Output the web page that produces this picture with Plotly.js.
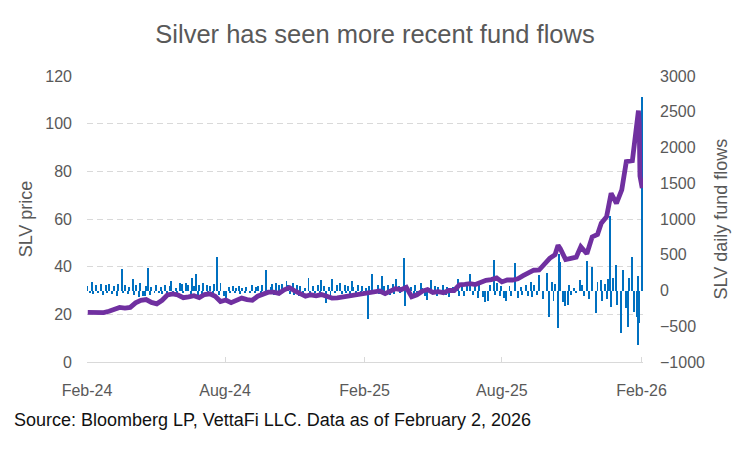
<!DOCTYPE html>
<html><head><meta charset="utf-8">
<script src="https://cdn.plot.ly/plotly-3.0.1.min.js"></script>
<style>html,body{margin:0;padding:0;background:#fff}#chart{width:750px;height:450px}</style>
</head><body><div id="chart"></div>
<script>
// SLV price (weekly-ish reads)
const priceDates = ['2024-02-02','2024-02-09','2024-02-16','2024-02-23','2024-03-01','2024-03-08','2024-03-15','2024-03-22','2024-03-29','2024-04-05','2024-04-12','2024-04-19','2024-04-26','2024-05-03','2024-05-10','2024-05-17','2024-05-24','2024-05-31','2024-06-07','2024-06-14','2024-06-21','2024-06-28','2024-07-05','2024-07-12','2024-07-19','2024-07-26','2024-08-02','2024-08-09','2024-08-16','2024-08-23','2024-08-30','2024-09-06','2024-09-13','2024-09-20','2024-09-27','2024-10-04','2024-10-11','2024-10-18','2024-10-25','2024-11-01','2024-11-08','2024-11-15','2024-11-22','2024-11-29','2024-12-06','2024-12-13','2024-12-20','2024-12-27','2025-01-03','2025-01-10','2025-01-17','2025-01-24','2025-01-31','2025-02-07','2025-02-14','2025-02-21','2025-02-28','2025-03-07','2025-03-14','2025-03-21','2025-03-28','2025-04-04','2025-04-11','2025-04-18','2025-04-25','2025-05-02','2025-05-09','2025-05-16','2025-05-23','2025-05-30','2025-06-06','2025-06-13','2025-06-20','2025-06-27','2025-07-04','2025-07-11','2025-07-18','2025-07-25','2025-08-01','2025-08-08','2025-08-15','2025-08-22','2025-08-29','2025-09-05','2025-09-12','2025-09-19','2025-09-26','2025-10-03','2025-10-10','2025-10-14','2025-10-17','2025-10-24','2025-10-31','2025-11-07','2025-11-13','2025-11-21','2025-11-28','2025-12-05','2025-12-10','2025-12-17','2025-12-23','2025-12-30','2026-01-06','2026-01-12','2026-01-20','2026-01-23','2026-01-26','2026-01-28','2026-01-29','2026-01-30','2026-02-02'];
const priceValues = [20.8,20.6,20.9,20.7,21.3,22.1,22.9,22.6,22.9,24.8,25.9,26.2,25.0,24.4,25.9,28.1,28.6,28.1,27.0,27.3,27.8,27.0,28.3,28.6,27.6,25.4,26.0,24.9,25.7,26.8,26.2,25.9,27.6,28.4,29.3,29.3,28.8,30.3,31.2,29.8,28.6,27.6,28.2,27.8,28.3,27.4,26.8,26.9,27.3,27.9,28.1,28.3,28.7,29.3,29.8,29.8,28.7,29.6,30.8,30.3,31.3,27.4,28.2,29.7,30.4,29.2,29.5,29.1,30.0,30.0,32.4,32.6,32.9,32.5,33.4,34.3,34.6,35.3,33.6,34.4,34.4,34.9,36.2,37.3,38.5,38.6,41.0,43.5,45.0,49.0,47.5,43.0,43.5,44.0,48.4,45.4,52.5,53.5,58.2,61.0,70.8,66.6,72.2,84.1,84.5,92.0,99.0,105.5,100.0,78.0,73.0];

// SLV daily fund flows
const flowDates = ['2024-02-01','2024-02-05','2024-02-07','2024-02-09','2024-02-13','2024-02-15','2024-02-20','2024-02-22','2024-02-26','2024-02-28','2024-03-01','2024-03-05','2024-03-07','2024-03-11','2024-03-13','2024-03-18','2024-03-20','2024-03-22','2024-03-26','2024-03-28','2024-04-01','2024-04-03','2024-04-05','2024-04-09','2024-04-11','2024-04-15','2024-04-17','2024-04-19','2024-04-22','2024-04-24','2024-04-26','2024-04-30','2024-05-02','2024-05-06','2024-05-08','2024-05-10','2024-05-14','2024-05-16','2024-05-20','2024-05-22','2024-05-24','2024-05-28','2024-05-30','2024-06-03','2024-06-05','2024-06-07','2024-06-11','2024-06-13','2024-06-17','2024-06-19','2024-06-21','2024-06-24','2024-06-26','2024-06-28','2024-07-01','2024-07-03','2024-07-08','2024-07-10','2024-07-12','2024-07-16','2024-07-18','2024-07-22','2024-07-24','2024-07-26','2024-07-30','2024-08-02','2024-08-06','2024-08-08','2024-08-12','2024-08-14','2024-08-16','2024-08-19','2024-08-21','2024-08-23','2024-08-27','2024-08-29','2024-09-03','2024-09-05','2024-09-09','2024-09-11','2024-09-13','2024-09-17','2024-09-19','2024-09-24','2024-09-26','2024-09-30','2024-10-02','2024-10-04','2024-10-07','2024-10-09','2024-10-11','2024-10-15','2024-10-17','2024-10-21','2024-10-23','2024-10-25','2024-10-29','2024-10-31','2024-11-04','2024-11-06','2024-11-08','2024-11-12','2024-11-14','2024-11-19','2024-11-21','2024-11-25','2024-11-27','2024-12-02','2024-12-04','2024-12-06','2024-12-10','2024-12-12','2024-12-16','2024-12-18','2024-12-20','2024-12-24','2024-12-27','2024-12-30','2025-01-02','2025-01-06','2025-01-08','2025-01-10','2025-01-13','2025-01-15','2025-01-17','2025-01-21','2025-01-23','2025-01-27','2025-01-29','2025-01-31','2025-02-03','2025-02-05','2025-02-07','2025-02-11','2025-02-13','2025-02-18','2025-02-20','2025-02-24','2025-02-26','2025-02-28','2025-03-04','2025-03-06','2025-03-10','2025-03-12','2025-03-14','2025-03-18','2025-03-20','2025-03-25','2025-03-26','2025-03-28','2025-04-01','2025-04-03','2025-04-07','2025-04-09','2025-04-11','2025-04-16','2025-04-18','2025-04-22','2025-04-24','2025-04-29','2025-05-01','2025-05-05','2025-05-07','2025-05-09','2025-05-13','2025-05-15','2025-05-19','2025-05-21','2025-05-23','2025-05-28','2025-05-30','2025-06-04','2025-06-06','2025-06-10','2025-06-12','2025-06-16','2025-06-20','2025-06-24','2025-06-26','2025-06-30','2025-07-02','2025-07-07','2025-07-10','2025-07-14','2025-07-16','2025-07-21','2025-07-23','2025-07-25','2025-07-29','2025-07-31','2025-08-04','2025-08-07','2025-08-11','2025-08-13','2025-08-18','2025-08-22','2025-08-26','2025-08-28','2025-09-02','2025-09-04','2025-09-08','2025-09-10','2025-09-12','2025-09-16','2025-09-19','2025-09-24','2025-09-29','2025-10-02','2025-10-06','2025-10-08','2025-10-10','2025-10-14','2025-10-15','2025-10-17','2025-10-21','2025-10-23','2025-10-27','2025-10-29','2025-10-31','2025-11-04','2025-11-07','2025-11-12','2025-11-14','2025-11-17','2025-11-21','2025-11-24','2025-11-28','2025-12-03','2025-12-05','2025-12-09','2025-12-11','2025-12-15','2025-12-17','2025-12-19','2025-12-22','2025-12-23','2025-12-26','2025-12-29','2025-12-31','2026-01-05','2026-01-08','2026-01-12','2026-01-14','2026-01-16','2026-01-20','2026-01-22','2026-01-26','2026-01-27','2026-01-28','2026-01-29','2026-02-02'];
const flowValues = [60,-35,113,-50,70,-40,90,-60,75,-30,85,-45,60,-70,95,300,-40,70,-55,50,160,-60,80,-90,110,-70,-83,60,310,-60,45,-40,70,-35,55,-50,80,-45,60,127,-70,40,-55,104,90,-40,110,75,-50,174,60,235,-60,80,-45,104,70,-50,60,-80,90,469,-60,104,-70,-120,50,-40,65,-30,40,60,-45,35,-30,50,-40,70,-30,45,60,-50,80,282,-40,55,90,-60,100,-50,70,95,-40,127,80,-45,110,-60,70,-70,60,-50,40,174,-40,60,-35,80,-50,141,60,-176,55,-60,160,-40,70,110,-50,80,-40,60,-60,130,50,-45,70,-30,60,-50,40,-395,60,225,-40,70,-50,198,60,-45,80,-60,90,-50,160,60,-40,455,-214,70,-60,50,-110,80,-50,100,40,-70,-130,140,-50,60,-80,50,-40,70,-60,45,-90,55,-40,160,-80,100,-70,60,235,-60,90,-100,70,-90,-154,-140,80,432,-60,110,-80,60,-100,-140,60,-80,385,-100,50,-60,80,-70,120,-90,70,-60,210,-120,240,-373,120,-150,90,-528,511,398,-160,-220,-200,80,-60,30,-40,150,70,-80,418,-120,330,-317,120,140,-150,90,-120,160,1040,-224,180,360,-200,-598,290,-250,-505,180,470,-300,-364,200,-762,-455,2702];

const tickVals = ['2024-02-01','2024-08-01','2025-02-01','2025-08-01','2026-02-01'];
const tickText = ['Feb-24','Aug-24','Feb-25','Aug-25','Feb-26'];

const gray = '#595959';
const font = 'Liberation Sans, Arial, sans-serif';
const traces = [
  {type:'bar', x:flowDates, y:flowValues, yaxis:'y', name:'SLV daily fund flows',
   marker:{color:'#0070C0', line:{width:0}}, width:2.6*86400000},
  {type:'scatter', mode:'lines', x:priceDates, y:priceValues, yaxis:'y2', name:'SLV price',
   line:{color:'#7030A0', width:4.8}}
];
const layout = {
  width:750, height:450,
  margin:{l:87, r:107, t:76, b:88},
  paper_bgcolor:'#fff', plot_bgcolor:'#fff',
  showlegend:false,
  bargap:0,
  title:{text:'Silver has seen more recent fund flows', font:{family:font, size:25.5, color:gray}, x:0.5, xanchor:'center', y:0.925, yanchor:'middle'},
  xaxis:{type:'date', range:['2024-02-01','2026-02-03'], tickvals:tickVals, ticktext:tickText,
    showgrid:false, zeroline:false, showline:true, linecolor:'#d9d9d9', linewidth:1,
    ticks:'inside', ticklen:5, tickcolor:'#d9d9d9', ticklabelstandoff:14,
    tickfont:{family:font, size:16, color:gray}},
  yaxis:{side:'right', range:[-1000,3000], dtick:500, showgrid:false, zeroline:false, showline:false,
    ticks:'', ticklabelstandoff:16,
    tickfont:{family:font, size:16, color:gray},
    title:{text:'SLV daily fund flows', font:{family:font, size:18, color:gray}, standoff:10}},
  yaxis2:{side:'left', overlaying:'y', range:[0,120], dtick:20, showgrid:true, gridcolor:'#d9d9d9', griddash:'6px,4px', gridwidth:1,
    zeroline:false, showline:false, ticks:'', ticklabelstandoff:14,
    tickfont:{family:font, size:16, color:gray},
    title:{text:'SLV price', font:{family:font, size:18, color:gray}, standoff:7}},
  annotations:[{xref:'paper', yref:'paper', x:-87/556, y:-58/286, xanchor:'left', yanchor:'middle', showarrow:false,
    text:'Source: Bloomberg LP, VettaFi LLC. Data as of February 2, 2026',
    font:{family:font, size:18, color:'#111'}, xshift:12}]
};
Plotly.newPlot('chart', traces, layout, {staticPlot:true, displayModeBar:false});
</script></body></html>
